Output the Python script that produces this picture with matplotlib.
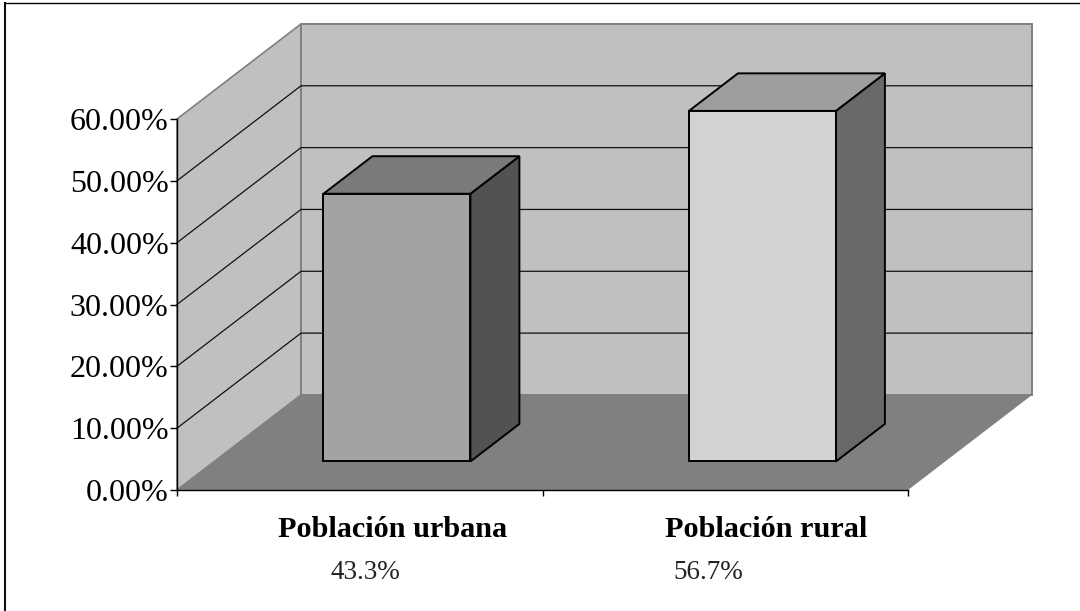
import numpy as np
import matplotlib
matplotlib.use("Agg")
import matplotlib.pyplot as plt
from matplotlib.lines import Line2D
from matplotlib.patches import Polygon

# values
categories = ["Población urbana", "Población rural"]
values = [43.3, 56.7]
ticks = [0, 10, 20, 30, 40, 50, 60]

W, H = 1080, 611
plt.rcParams["font.family"] = ["Liberation Serif", "DejaVu Serif"]

fig = plt.figure(figsize=(W / 100, H / 100), dpi=100)
fig.patch.set_facecolor("white")

# front plane of the 3d box, in pixels
left, right, bottom, top = 177, 908, 490, 119
ax = fig.add_axes([left / W, 1 - bottom / H, (right - left) / W, (bottom - top) / H])
ax.set_xlim(0, len(categories))
ax.set_ylim(0, 60)
ax.patch.set_visible(False)

# oblique projection: depth 0 = front, depth 1 = back wall
depth_x = 124 / 365.5
depth_y = 95 / 6.18


def proj(x, y, d):
    return (x + d * depth_x, y + d * depth_y)


def face(corners, color, edge=None, lw=0.0, z=1):
    pts = [proj(*c) for c in corners]
    ax.add_patch(Polygon(pts, closed=True, facecolor=color, edgecolor=edge or color,
                         linewidth=lw, zorder=z, clip_on=False, joinstyle="miter"))


n = len(categories)
ymax = ticks[-1]

# walls and floor
face([(0, 0, 0), (0, ymax, 0), (0, ymax, 1), (0, 0, 1)], "#c0c0c0", edge="#808080", lw=1.2, z=1)
face([(0, 0, 1), (0, ymax, 1), (n, ymax, 1), (n, 0, 1)], "#c0c0c0", edge="#808080", lw=1.4, z=1)
face([(0, 0, 0), (0, 0, 1), (n, 0, 1), (n, 0, 0)], "#808080", z=2)

# gridlines around the left wall and back wall
for t in ticks[1:-1]:
    xs, ys = zip(proj(0, t, 0), proj(0, t, 1), proj(n, t, 1))
    ax.plot(xs, ys, color="#111111", lw=0.9, zorder=2, clip_on=False)

# bars
bar_w = 0.402
d0, d1 = 0.30, 0.695
front_cols = ["#a3a3a3", "#d2d2d2"]
top_cols = ["#7a7a7a", "#9e9e9e"]
side_cols = ["#525252", "#696969"]
for i, v in enumerate(values):
    x0, x1 = i + 0.5 - bar_w / 2, i + 0.5 + bar_w / 2
    face([(x1, 0, d0), (x1, v, d0), (x1, v, d1), (x1, 0, d1)], side_cols[i], "black", 1.4, 4)
    face([(x0, v, d0), (x1, v, d0), (x1, v, d1), (x0, v, d1)], top_cols[i], "black", 1.4, 4)
    face([(x0, 0, d0), (x1, 0, d0), (x1, v, d0), (x0, v, d0)], front_cols[i], "black", 1.4, 5)

# axes
for s in ["top", "right"]:
    ax.spines[s].set_visible(False)
for s in ["left", "bottom"]:
    ax.spines[s].set_linewidth(1.0)
    ax.spines[s].set_zorder(6)
ax.set_yticks(ticks)
ax.set_yticklabels([f"{t:.2f}%" for t in ticks], fontsize=23)
ax.set_xticks(np.arange(n + 1))
ax.set_xticklabels([])
ax.tick_params(axis="y", length=5, width=1.0, pad=1, color="black")
ax.tick_params(axis="x", length=4.5, width=1.0, color="black")


def px_text(x, y, s, **kw):
    fig.text(x / W, 1 - y / H, s, ha="center", va="baseline", **kw)


# category names and value notes below the axis
name_x = [393, 766]
note_x = [365, 708]
for i in range(n):
    px_text(name_x[i], 537, categories[i], fontsize=21.8, fontweight="bold")
    px_text(note_x[i], 579, f"{values[i]}%", fontsize=19.5, color="#222222")

# chart frame: only the top and left edges show in the picture
fig.add_artist(Line2D([5 / W, 5 / W], [0, 1 - 2.5 / H], transform=fig.transFigure,
                      color="#111111", lw=1.5))
fig.add_artist(Line2D([5 / W, 1], [1 - 2.5 / H, 1 - 2.5 / H], transform=fig.transFigure,
                      color="black", lw=1.0))

fig.savefig("out.png", dpi=100)
